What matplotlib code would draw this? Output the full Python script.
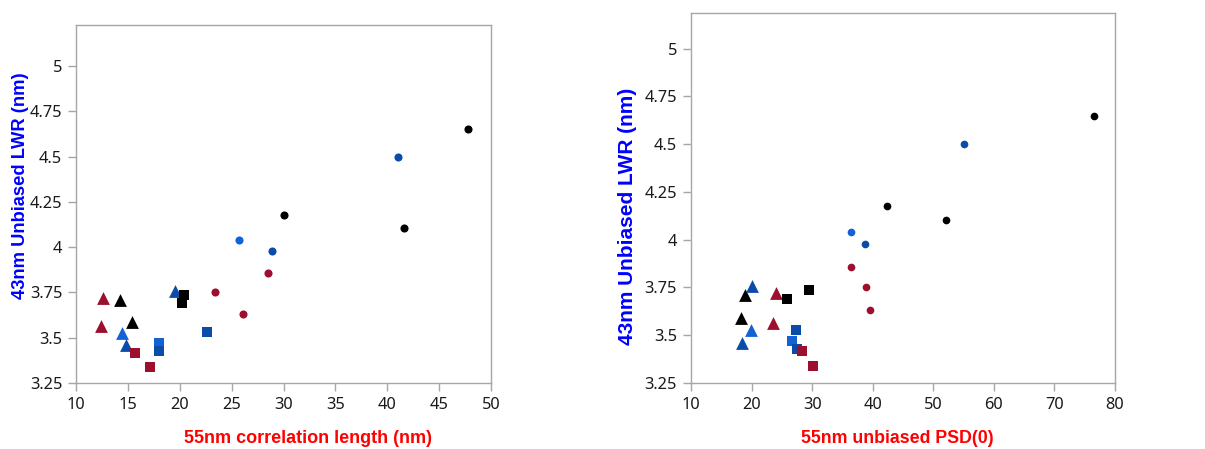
import matplotlib.pyplot as plt

# y: 43nm unbiased LWR (nm); x_cl: 55nm correlation length (nm); x_psd: 55nm unbiased PSD(0)
black_circ_y = [4.65, 4.178, 4.105]
black_circ_cl = [47.8, 30.0, 41.6]
black_circ_psd = [76.6, 42.3, 52.1]

blue_circ_y = [4.04]
blue_circ_cl = [25.7]
blue_circ_psd = [36.5]

dblue_circ_y = [4.50, 3.98]
dblue_circ_cl = [41.0, 28.9]
dblue_circ_psd = [55.0, 38.7]

red_circ_y = [3.855, 3.75, 3.633]
red_circ_cl = [28.5, 23.4, 26.1]
red_circ_psd = [36.5, 38.9, 39.6]

red_tri_y = [3.72, 3.565]
red_tri_cl = [12.6, 12.4]
red_tri_psd = [24.0, 23.5]

black_tri_y = [3.71, 3.588]
black_tri_cl = [14.2, 15.4]
black_tri_psd = [19.0, 18.3]

blue_tri_y = [3.528]
blue_tri_cl = [14.4]
blue_tri_psd = [19.9]

dblue_tri_y = [3.76, 3.46]
dblue_tri_cl = [19.5, 14.8]
dblue_tri_psd = [20.0, 18.4]

blue_sq_y = [3.47]
blue_sq_cl = [18.0]
blue_sq_psd = [26.6]

dblue_sq_y = [3.426, 3.53]
dblue_sq_cl = [18.0, 22.6]
dblue_sq_psd = [27.5, 27.4]

red_sq_y = [3.418, 3.34]
red_sq_cl = [15.7, 17.1]
red_sq_psd = [28.3, 30.1]

black_sq_y = [3.738, 3.689]
black_sq_cl = [20.4, 20.2]
black_sq_psd = [29.5, 25.8]

RED = "#9d0f2d"
BLUE = "#1262d6"
DBLUE = "#0b4ca8"
BLACK = "#000000"

series = [
    (black_circ_y, black_circ_cl, black_circ_psd, BLACK, "o"),
    (blue_circ_y, blue_circ_cl, blue_circ_psd, BLUE, "o"),
    (dblue_circ_y, dblue_circ_cl, dblue_circ_psd, DBLUE, "o"),
    (red_circ_y, red_circ_cl, red_circ_psd, RED, "o"),
    (red_tri_y, red_tri_cl, red_tri_psd, RED, "^"),
    (black_tri_y, black_tri_cl, black_tri_psd, BLACK, "^"),
    (blue_tri_y, blue_tri_cl, blue_tri_psd, BLUE, "^"),
    (dblue_tri_y, dblue_tri_cl, dblue_tri_psd, DBLUE, "^"),
    (blue_sq_y, blue_sq_cl, blue_sq_psd, BLUE, "s"),
    (dblue_sq_y, dblue_sq_cl, dblue_sq_psd, DBLUE, "s"),
    (red_sq_y, red_sq_cl, red_sq_psd, RED, "s"),
    (black_sq_y, black_sq_cl, black_sq_psd, BLACK, "s"),
]
SIZES = {"o": 34, "^": 85, "s": 62}

yticks = [3.25, 3.5, 3.75, 4, 4.25, 4.5, 4.75, 5]
ytick_labels = ["3.25", "3.5", "3.75", "4", "4.25", "4.5", "4.75", "5"]

plt.rcParams["font.family"] = ["Noto Sans", "DejaVu Sans"]

fig = plt.figure(figsize=(12.05, 4.49), dpi=100)
ax1 = fig.add_axes([0.0631, 0.147, 0.3444, 0.7973])
ax2 = fig.add_axes([0.5734, 0.147, 0.3519, 0.824])


def style_axes(ax, xlim, ytop, xticks):
    ax.set_xlim(*xlim)
    ax.set_ylim(3.25, ytop)
    ax.set_xticks(xticks)
    ax.set_yticks(yticks)
    ax.set_yticklabels(ytick_labels)
    for sp in ax.spines.values():
        sp.set_color("#a6a6a6")
        sp.set_linewidth(1.0)
    ax.tick_params(direction="out", length=6, width=1, color="#a6a6a6",
                   labelsize=11.8, labelcolor="#1a1a1a", pad=4)


def label_font(size):
    return dict(family="Liberation Sans", weight="bold", fontsize=size)


for idx, (ax, xlim, ytop, xticks) in enumerate([
    (ax1, (10, 50), 5.226, range(10, 51, 5)),
    (ax2, (10, 80), 5.187, range(10, 81, 10)),
]):
    for y, xcl, xpsd, color, marker in series:
        x = xcl if idx == 0 else xpsd
        size = SIZES[marker] * (0.9 if (idx == 1 and marker == "o") else 1)
        ax.scatter(x, y, s=size, c=color, marker=marker, linewidths=0, zorder=3)
    style_axes(ax, xlim, ytop, xticks)

ax1.set_xlabel("55nm correlation length (nm)", color="#ff0000", va="center", **label_font(13))
ax1.xaxis.set_label_coords(0.558, -0.154)
ax1.set_ylabel("43nm Unbiased LWR (nm)", color="#0000ff", va="center", **label_font(13.2))
ax1.yaxis.set_label_coords(-0.135, 0.55)

ax2.set_xlabel("55nm unbiased PSD(0)", color="#ff0000", va="center", **label_font(12.8))
ax2.xaxis.set_label_coords(0.486, -0.151)
ax2.set_ylabel("43nm Unbiased LWR (nm)", color="#0000ff", va="center", **label_font(15))
ax2.yaxis.set_label_coords(-0.149, 0.451)

fig.savefig("out.png", dpi=100)
